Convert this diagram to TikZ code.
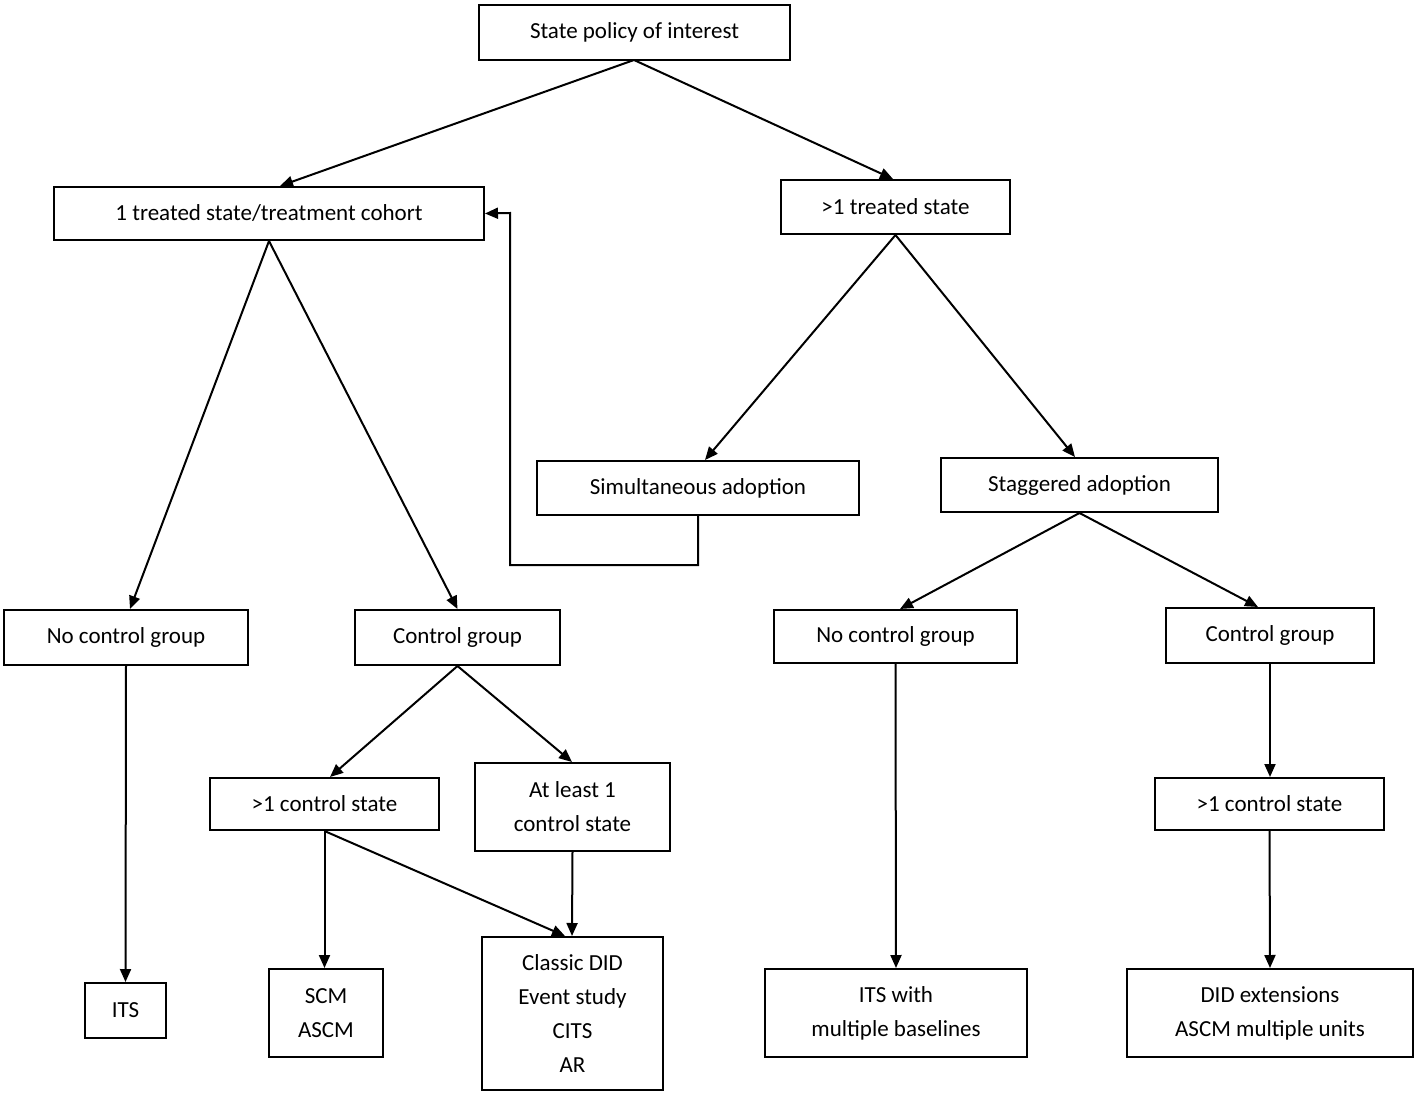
\documentclass[tikz,border=0pt]{standalone}
\usepackage{fontspec}
\setmainfont{Carlito}
\usetikzlibrary{arrows.meta}
\begin{document}
\begin{tikzpicture}[x=1pt,y=-1pt,
 bx/.style={draw,line width=2pt,rectangle,inner sep=0pt,align=center,font=\fontsize{23}{34}\selectfont},
 ar/.style={line width=2pt,-{Triangle[length=13pt,width=11pt]}}]
\useasboundingbox (0,0) rectangle (1417,1097);
\def\B#1#2#3#4#5#6{\node[bx,minimum width=#4-#2,minimum height=#5-#3] (#1) at ({(#2+#4)/2},{(#3+#5)/2}) {#6};}
\B{pol}{479}{5}{790}{60}{State policy of interest}
\B{one}{54}{187}{484}{240}{1 treated state/treatment cohort}
\B{many}{781}{180}{1010}{234}{>1 treated state}
\B{sim}{537}{461}{859}{515}{Simultaneous adoption}
\B{stag}{941}{458}{1218}{512}{Staggered adoption}
\B{ncl}{4}{610}{248}{665}{No control group}
\B{cl}{355}{610}{560}{665}{Control group}
\B{ncr}{774}{610}{1017}{663}{No control group}
\B{cr}{1166}{608}{1374}{663}{Control group}
\B{mcl}{210}{778}{439}{830}{>1 control state}
\B{al}{475}{763}{670}{851}{At least 1\\control state}
\B{mcr}{1155}{778}{1384}{830}{>1 control state}
\B{its}{85}{983}{166}{1038}{ITS}
\B{scm}{269}{969}{383}{1057}{SCM\\ASCM}
\B{cla}{482}{937}{663}{1090}{Classic DID\\Event study\\CITS\\AR}
\B{itsm}{765}{969}{1027}{1057}{ITS with\\multiple baselines}
\B{did}{1127}{969}{1413}{1057}{DID extensions\\ASCM multiple units}
\coordinate (p0) at (634,60);
\draw[ar] (p0) -- (one.north -| 280,0);
\draw[ar] (p0) -- (many.north -| 893,0);
\draw[ar] (one.south) -- (ncl.north -| 130,0);
\draw[ar] (one.south) -- (cl.north);
\draw[ar] (sim.south) -- (698,565) -- (510,565) -- (510,213) -- (one.east);
\draw[ar] (many.south) -- (sim.north -| 705,0);
\draw[ar] (many.south) -- (stag.north -| 1075,0);
\draw[ar] (stag.south) -- (ncr.north -| 900,0);
\draw[ar] (stag.south) -- (cr.north -| 1258,0);
\draw[ar] (cl.south) -- (mcl.north -| 330,0);
\draw[ar] (cl.south) -- (al.north -| 572,0);
\draw[ar] (ncl.south) -- (its.north);
\draw[ar] (mcl.south) -- (mcl.south |- scm.north);
\draw[ar] (mcl.south) -- (cla.north -| 565,0);
\draw[ar] (al.south) -- (cla.north -| 572,0);
\draw[ar] (ncr.south) -- (itsm.north -| 896,0);
\draw[ar] (cr.south) -- (mcr.north -| 1270,0);
\draw[ar] (mcr.south) -- (did.north -| 1270,0);
\end{tikzpicture}
\end{document}
